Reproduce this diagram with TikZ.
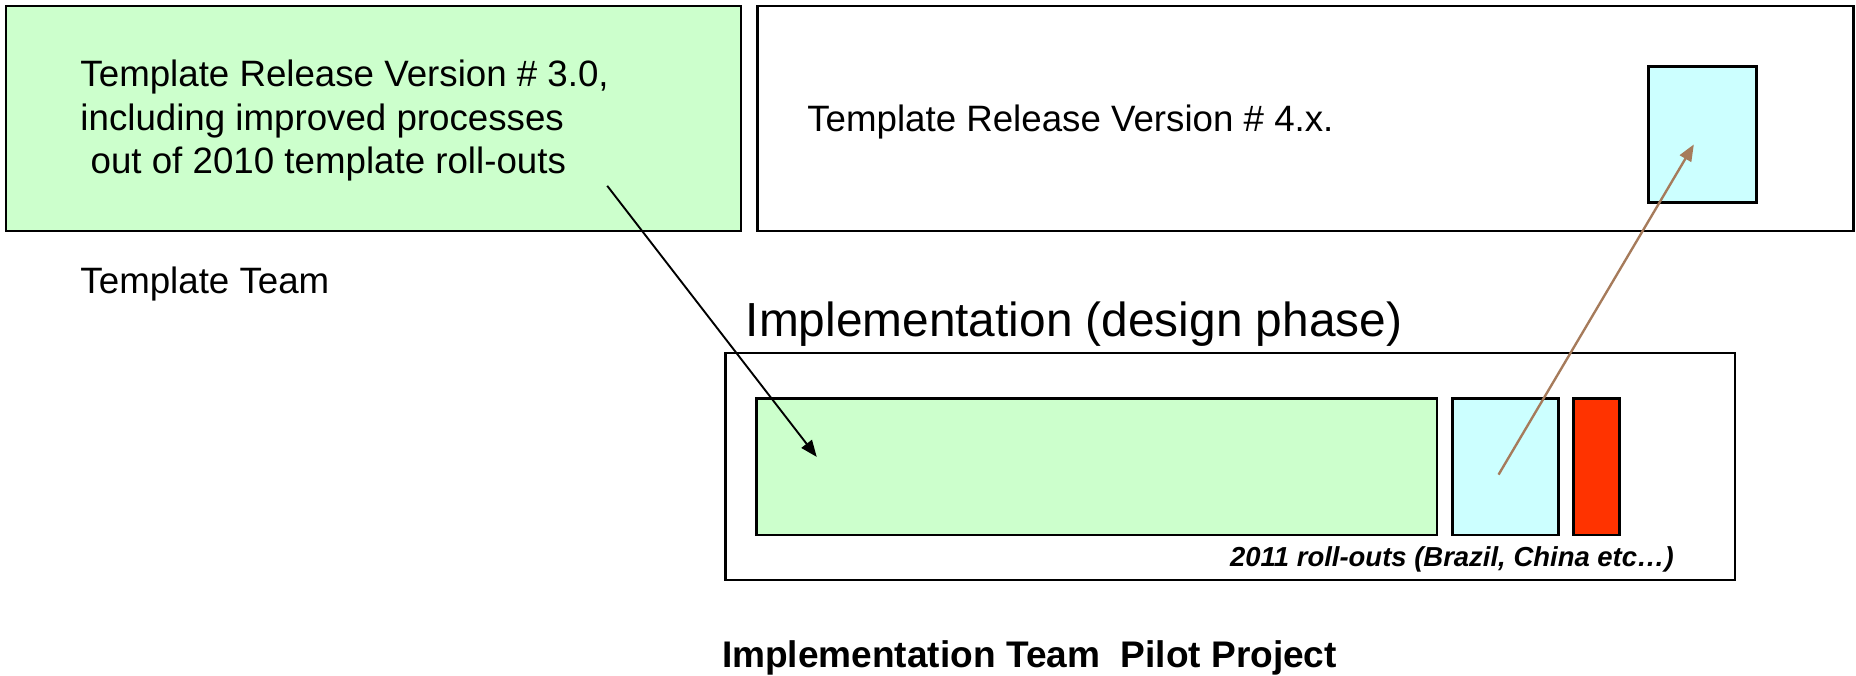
\documentclass[tikz,border=0pt]{standalone}
\usepackage{fontspec}
\setmainfont{Liberation Sans}
\usetikzlibrary{arrows.meta}
\definecolor{lgreen}{HTML}{CCFFCC}
\definecolor{lcyan}{HTML}{CCFFFF}
\definecolor{lred}{HTML}{FF3300}
\definecolor{brownarrow}{HTML}{A67B5B}
\begin{document}
\begin{tikzpicture}[x=1pt,y=-1pt,
  box/.style={draw=black, line width=2pt, inner sep=0pt, outer sep=0pt, anchor=north west},
  ibox/.style={box, line width=2.4pt},
  txt/.style={inner sep=0pt, outer sep=0pt, anchor=base west, font=\fontsize{31}{37}\selectfont},
  conn/.style={line width=1.6pt, -{Triangle[length=14pt,width=11pt]}},
]
\useasboundingbox (0,0) rectangle (1568,570.3);
% top boxes
\node[box, fill=lgreen, minimum width=621pt, minimum height=190pt] (relA) at (5,5) {};
\node[box, fill=white, minimum width=926pt, minimum height=190pt] (relB) at (640,5) {};
\node[ibox, fill=lcyan, minimum width=91pt, minimum height=115pt] (relBc) at (1393,56) {};
% texts top
\node[inner sep=0pt, outer sep=0pt, anchor=north west, align=left, font=\fontsize{31}{37}\selectfont] (tA) at (68,50.5)
  {Template Release Version \# 3.0,\\including improved processes\\\hspace*{8.6pt}out of 2010 template roll-outs};
\node[txt] (tB) at (682,111) {Template Release Version \# 4.x.};
\node[txt] (tTeam) at (68,248) {Template Team};
% implementation
\node[inner sep=0pt, outer sep=0pt, anchor=base west, font=\fontsize{40.4}{48}\selectfont] (tImpl) at (630,284) {Implementation (design phase)};
\node[box, fill=white, minimum width=853pt, minimum height=192pt] (impl) at (613,298) {};
\node[ibox, fill=lgreen, minimum width=575pt, minimum height=115pt] (iG) at (639,337) {};
\node[ibox, fill=lcyan, minimum width=90pt, minimum height=115pt] (iC) at (1227,337) {};
\node[ibox, fill=lred, minimum width=39pt, minimum height=115pt] (iR) at (1329,337) {};
\node[inner sep=0pt, outer sep=0pt, anchor=base east, font=\fontsize{23.2}{28}\selectfont\bfseries\itshape] (tRoll) at (1414,479) {2011 roll-outs (Brazil, China etc…)};
\node[inner sep=0pt, outer sep=0pt, anchor=base west, font=\fontsize{31.3}{37}\selectfont\bfseries] (tPilot) at (610,564) {Implementation Team\ \ Pilot Project};
% connectors
\coordinate (aS) at (513,157);
\coordinate (aE) at (690,386);
\draw[conn, black] (aS) -- (aE);
\coordinate (bS) at (1266,401);
\coordinate (bE) at (1431,122);
\draw[conn, brownarrow, line width=2pt] (bS) -- (bE);
\end{tikzpicture}
\end{document}
